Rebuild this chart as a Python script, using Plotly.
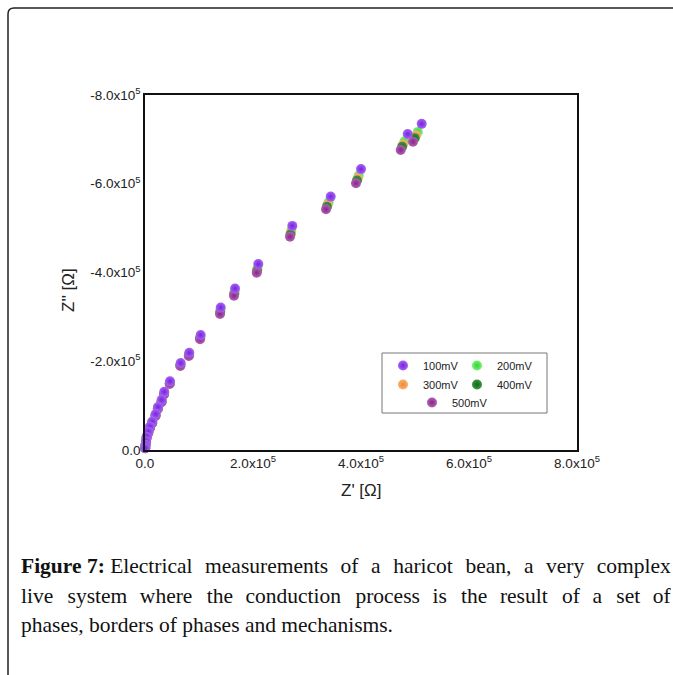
import plotly.graph_objects as go

SCALE = 1e5  # values below are in units of 1e5 ohm

series_names = ["100mV", "200mV", "300mV", "400mV", "500mV"]
series_colors = ["#7a1fe0", "#2fd62f", "#f08a30", "#0b6b12", "#86248a"]
center_colors = ["#a466f0", "#7af07a", "#f8b071", "#3f9444", "#b062b3"]
series_legend = ["legend", "legend2", "legend", "legend2", "legend3"]

zre_100 = [5.124, 4.865, 4.000, 3.439, 2.728, 2.098, 1.667, 1.402, 1.031, 0.820, 0.661, 0.463,
           0.357, 0.309, 0.241, 0.198, 0.135, 0.093, 0.061, 0.031, 0.019, 0.009, 0.004]
zim_100 = [-7.35, -7.12, -6.33, -5.71, -5.05, -4.19, -3.64, -3.21, -2.59, -2.19, -1.96, -1.55,
           -1.31, -1.13, -0.97, -0.81, -0.64, -0.53, -0.41, -0.30, -0.20, -0.11, -0.045]

zre_200 = [5.052, 4.806, 3.958, 3.400, 2.709, 2.085, 1.658, 1.396, 1.026, 0.816, 0.658, 0.460,
           0.355, 0.308, 0.239, 0.196, 0.134, 0.093, 0.061, 0.031, 0.019, 0.009, 0.004]
zim_200 = [-7.169, -6.958, -6.186, -5.581, -4.941, -4.102, -3.567, -3.145, -2.547, -2.158, -1.930, -1.522,
           -1.283, -1.105, -0.949, -0.790, -0.623, -0.515, -0.398, -0.290, -0.193, -0.106, -0.042]

zre_300 = [5.019, 4.780, 3.940, 3.382, 2.700, 2.079, 1.655, 1.394, 1.023, 0.814, 0.656, 0.459,
           0.354, 0.307, 0.238, 0.195, 0.134, 0.093, 0.061, 0.031, 0.019, 0.009, 0.004]
zim_300 = [-7.089, -6.886, -6.122, -5.524, -4.892, -4.063, -3.534, -3.116, -2.528, -2.143, -1.916, -1.509,
           -1.272, -1.094, -0.940, -0.781, -0.615, -0.508, -0.392, -0.285, -0.190, -0.104, -0.040]

zre_400 = [4.995, 4.761, 3.926, 3.369, 2.694, 2.075, 1.652, 1.392, 1.021, 0.813, 0.655, 0.458,
           0.353, 0.307, 0.238, 0.195, 0.133, 0.093, 0.061, 0.031, 0.019, 0.009, 0.004]
zim_400 = [-7.028, -6.832, -6.074, -5.481, -4.856, -4.034, -3.510, -3.094, -2.514, -2.132, -1.906, -1.500,
           -1.263, -1.086, -0.933, -0.775, -0.610, -0.503, -0.388, -0.282, -0.188, -0.103, -0.039]

zre_500 = [4.963, 4.735, 3.907, 3.352, 2.685, 2.069, 1.648, 1.389, 1.019, 0.811, 0.654, 0.457,
           0.352, 0.306, 0.237, 0.194, 0.133, 0.093, 0.061, 0.031, 0.019, 0.009, 0.004]
zim_500 = [-6.948, -6.760, -6.010, -5.424, -4.807, -3.995, -3.477, -3.065, -2.495, -2.118, -1.893, -1.487,
           -1.251, -1.075, -0.924, -0.766, -0.602, -0.496, -0.383, -0.277, -0.185, -0.101, -0.038]

x_tickvals = [0, 2, 4, 6, 8]
x_ticktext = ["0.0", "2.0x10<sup>5</sup>", "4.0x10<sup>5</sup>", "6.0x10<sup>5</sup>", "8.0x10<sup>5</sup>"]
y_tickvals = [0, -2, -4, -6, -8]
y_ticktext = ["0.0", "-2.0x10<sup>5</sup>", "-4.0x10<sup>5</sup>", "-6.0x10<sup>5</sup>", "-8.0x10<sup>5</sup>"]

caption_lines = [
    "<b>Figure 7:</b> Electrical measurements of a haricot bean, a very complex",
    "live system where the conduction process is the result of a set of",
    "phases, borders of phases and mechanisms.",
]
# inter-word spacers (alternating) used to mimic the justified caption lines
caption_spacers = [
    [" \u2004"],
    [" \u2004\u200a", " \u2004"],
    [" "],
]

xs = [zre_100, zre_200, zre_300, zre_400, zre_500]
ys = [zim_100, zim_200, zim_300, zim_400, zim_500]

fig = go.Figure()
draw_order = [1, 2, 3, 4, 0]
for i in draw_order:
    fig.add_trace(go.Scatter(
        x=[v * SCALE for v in xs[i]],
        y=[v * SCALE for v in ys[i]],
        mode="markers",
        name=series_names[i],
        legend=series_legend[i],
        legendrank=i + 1,
        cliponaxis=False,
        marker=dict(size=10, color=center_colors[i],
                    gradient=dict(type="radial", color=series_colors[i]),
                    line=dict(width=0)),
    ))

axis_font = dict(family="Liberation Sans, Arial, sans-serif", size=13.5, color="#222")
fig.update_xaxes(range=[0, 8 * SCALE], tickvals=[v * SCALE for v in x_tickvals], ticktext=x_ticktext,
                 showgrid=False, zeroline=False, showline=True, linecolor="#111", linewidth=1.5,
                 mirror=True, ticks="", tickfont=axis_font)
fig.update_yaxes(range=[0, -8 * SCALE], tickvals=[v * SCALE for v in y_tickvals], ticktext=y_ticktext,
                 showgrid=False, zeroline=False, showline=True, linecolor="#111", linewidth=1.5,
                 mirror=True, ticks="", tickfont=axis_font)

W, H = 673, 675
L, R, T, B = 145, 96, 95, 225
pw, ph = W - L - R, H - T - B

def px(x):
    return (x - L) / pw

def py(y):
    return (H - B - y) / ph

annotations = [
    dict(text="Z' [Ω]", x=0.5, y=py(490), xref="paper", yref="paper", showarrow=False,
         xanchor="center", yanchor="middle",
         font=dict(family="Liberation Sans, Arial, sans-serif", size=17, color="#222")),
    dict(text="Z'' [Ω]", x=px(68), y=py(290), xref="paper", yref="paper", showarrow=False,
         xanchor="center", yanchor="middle", textangle=-90,
         font=dict(family="Liberation Sans, Arial, sans-serif", size=17, color="#222")),
]
cap_y = [566, 596, 625]
for line, sps, yy in zip(caption_lines, caption_spacers, cap_y):
    head = ""
    if line.startswith("<b>Figure 7:</b> "):
        head = "<b>Figure 7:</b> "
        line = line[len(head):]
    words = line.split(" ")
    text = head + words[0]
    for k, w in enumerate(words[1:]):
        text += sps[k % len(sps)] + w
    annotations.append(dict(text=text, x=px(19), y=py(yy), xref="paper", yref="paper",
                            showarrow=False, xanchor="left", yanchor="middle", align="left",
                            font=dict(family="Liberation Serif, Times New Roman, serif", size=21.5,
                                      color="#111")))

xl = px(8)
yt = py(8)
rx, ry = 6 / pw, 6 / ph
border = f"M {xl},{py(700)} L {xl},{yt - ry} Q {xl},{yt} {xl + rx},{yt} L {px(700)},{yt}"

leg_font = dict(family="Liberation Sans, Arial, sans-serif", size=11, color="#222")
leg_common = dict(orientation="v", xanchor="left", yanchor="top", bgcolor="rgba(0,0,0,0)",
                  borderwidth=0, font=leg_font, tracegroupgap=0)

fig.update_layout(
    width=W, height=H,
    margin=dict(l=L, r=R, t=T, b=B),
    paper_bgcolor="white", plot_bgcolor="white",
    showlegend=True,
    legend=dict(x=px(383), y=py(351), **leg_common),
    legend2=dict(x=px(457), y=py(351), **leg_common),
    legend3=dict(x=px(412), y=py(388), **leg_common),
    annotations=annotations,
    shapes=[
        dict(type="path", path=border, xref="paper", yref="paper",
             line=dict(color="#222", width=1.5)),
        dict(type="rect", xref="paper", yref="paper", x0=px(382), x1=px(547), y0=py(413), y1=py(353),
             fillcolor="white", line=dict(color="#777", width=1), layer="above"),
    ],
)

fig.write_html("out.html", config={"displayModeBar": False},
               post_script="document.body.style.margin='0px';document.body.style.overflow='hidden';")
